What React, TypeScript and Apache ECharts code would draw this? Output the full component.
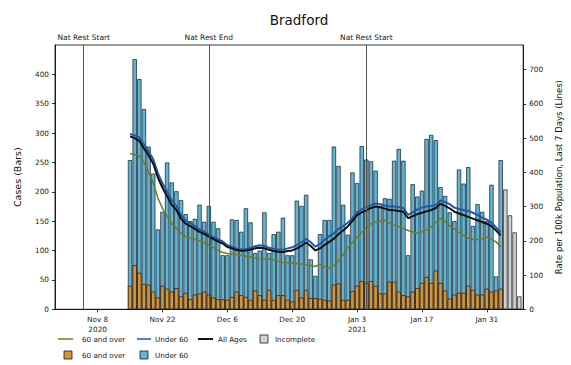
import React, { useEffect, useRef } from "react";
import * as echarts from "echarts";

// Day 0 = 2020-11-08. Bars/lines start at day 7 (Nov 15).
const firstDay = 7;
// total cases per day (bar height)
const totalCases = [
  254, 426, 392, 341, 277, 231, 136, 166, 250, 216,
  201, 186, 162, 150, 154, 178, 149, 176, 149, 138,
  92, 92, 153, 152, 132, 172, 148, 96, 100, 165,
  96, 128, 132, 156, 92, 92, 185, 176, 195, 85,
  57, 128, 152, 152, 277, 244, 178, 127, 233, 215,
  278, 255, 252, 236, 176, 189, 188, 253, 273, 253,
  92, 213, 192, 202, 290, 297, 288, 208, 193, 165,
  150, 238, 214, 242, 142, 179, 166, 150, 212, 56,
  254,
];
// 60 and over part (bottom of each bar)
const over60Cases = [
  40, 75, 62, 43, 42, 30, 20, 40, 35, 30,
  36, 22, 28, 17, 25, 27, 30, 25, 20, 17,
  17, 16, 21, 30, 24, 21, 16, 32, 24, 16,
  33, 16, 24, 24, 16, 13, 33, 20, 33, 19,
  19, 18, 16, 15, 42, 44, 16, 16, 31, 40,
  48, 45, 48, 40, 27, 27, 47, 47, 30, 24,
  22, 30, 36, 45, 55, 45, 66, 45, 32, 18,
  25, 28, 28, 40, 33, 25, 25, 35, 30, 32,
  35,
];
const incompleteFirstDay = 88;
const incompleteCases = [204, 160, 131, 22];

const over60Rate = [
  455, 452, 448, 430, 400, 370, 325, 295, 272, 250,
  237, 222, 212, 208, 204, 200, 195, 188, 180, 172,
  166, 163, 161, 160, 158, 155, 153, 150, 148, 147,
  146, 144, 140, 137, 136, 135, 134, 132, 130, 128,
  125, 132, 124, 119, 128, 142, 160, 180, 195, 210,
  225, 238, 250, 255, 258, 260, 252, 246, 241, 236,
  230, 226, 222, 226, 232, 240, 255, 265, 256, 244,
  235, 225, 215, 208, 204, 204, 206, 211, 205, 197,
  183,
];
const under60Rate = [
  512, 508, 502, 482, 462, 438, 398, 368, 344, 318,
  302, 276, 260, 252, 243, 233, 227, 218, 211, 204,
  198, 187, 183, 177, 175, 176, 179, 184, 187, 185,
  180, 177, 175, 174, 178, 181, 188, 196, 206, 196,
  183, 191, 203, 214, 222, 235, 243, 253, 266, 283,
  292, 298, 305, 309, 307, 303, 300, 300, 298, 296,
  276, 283, 292, 297, 300, 302, 305, 318, 313, 307,
  297, 293, 290, 287, 282, 276, 268, 262, 253, 239,
  225,
];
const allAgesRate = [
  505, 500, 492, 470, 450, 425, 385, 355, 330, 305,
  290, 265, 250, 243, 235, 226, 220, 212, 205, 198,
  192, 182, 178, 173, 171, 172, 174, 178, 180, 178,
  174, 170, 168, 167, 170, 172, 178, 185, 195, 185,
  172, 178, 188, 197, 206, 220, 230, 242, 258, 275,
  283, 289, 296, 300, 298, 294, 290, 289, 287, 285,
  266, 272, 278, 282, 286, 290, 296, 308, 302, 295,
  285, 280, 275, 270, 265, 260, 255, 250, 243, 230,
  216,
];

const tickDays = [0, 14, 28, 42, 56, 70, 84];
const tickLabels = ["Nov 8\n2020", "Nov 22", "Dec 6", "Dec 20", "Jan 3\n2021", "Jan 17", "Jan 31"];
const eventDays = [-3, 24, 58];
const eventLabels = ["Nat Rest Start", "Nat Rest End", "Nat Rest Start"];
const leftTicks = [0, 50, 100, 150, 200, 250, 300, 350, 400];
const rightTicks = [0, 100, 200, 300, 400, 500, 600, 700];

const FONT = "DejaVu Sans";
const C_O60 = "#d3953c";
const C_U60 = "#5fb6d8";
const C_INC = "#d3d3d3";
const C_EDGE = "#1a1a1a";
const L_O60 = "#6f7b2a";
const L_U60 = "#2059a8";
const L_ALL = "#111111";

export default function App() {
  const ref = useRef<HTMLDivElement>(null);
  useEffect(() => {
    if (!ref.current) return;
    const chart = echarts.init(ref.current, null, { renderer: "svg" });

    const toPts = (arr: number[], start: number) => arr.map((v, i) => [start + i, v]);

    const barCommon = {
      type: "bar",
      barWidth: 4.3,
      barGap: "-100%",
      yAxisIndex: 0,
      silent: true,
    };
    const lineCommon = {
      type: "line",
      yAxisIndex: 1,
      showSymbol: false,
      silent: true,
      z: 4,
    };
    const labelStyle = { fontFamily: FONT, fontSize: 7.3, color: "#222" };
    const axisLine = { show: true, onZero: false, lineStyle: { color: "#000", width: 0.8 } };
    const lbl = (x: number, y: number, text: string) => ({
      type: "text",
      x,
      y,
      style: { text, fontFamily: FONT, fontSize: 7.2, fill: "#222", verticalAlign: "middle", align: "left" },
    });
    const row1 = 339;
    const row2 = 355;

    chart.setOption({
      animation: false,
      title: {
        text: "Bradford",
        left: 294,
        top: 8,
        textAlign: "center",
        textStyle: { fontFamily: FONT, fontSize: 13.5, fontWeight: "normal", color: "#111" },
      },
      grid: { left: 55, right: 39.5, top: 45, bottom: 55.7, show: true, borderColor: "#000", borderWidth: 0.8 },
      xAxis: {
        type: "value",
        min: -9.2,
        max: 91.85,
        splitLine: { show: false },
        axisLine,
        axisTick: { show: true, length: 3, lineStyle: { color: "#000", width: 0.8 }, customValues: tickDays },
        axisLabel: {
          ...labelStyle,
          margin: 5,
          lineHeight: 10,
          customValues: tickDays,
          formatter: (v: number) => {
            const i = tickDays.indexOf(v);
            return i >= 0 ? tickLabels[i] : "";
          },
        },
      },
      yAxis: [
        {
          type: "value",
          min: 0,
          max: 450,
          name: "Cases (Bars)",
          nameLocation: "middle",
          nameRotate: 90,
          nameGap: 33,
          nameTextStyle: { fontFamily: FONT, fontSize: 9.5, color: "#111" },
          splitLine: { show: false },
          axisLine,
          axisTick: { show: true, length: 3, lineStyle: { color: "#000", width: 0.8 }, customValues: leftTicks },
          axisLabel: { ...labelStyle, margin: 6, customValues: leftTicks },
        },
        {
          type: "value",
          min: 0,
          max: 772,
          position: "right",
          name: "Rate per 100k Population, Last 7 Days (Lines)",
          nameLocation: "middle",
          nameRotate: 90,
          nameGap: 27,
          nameTextStyle: { fontFamily: FONT, fontSize: 8.5, color: "#111" },
          splitLine: { show: false },
          axisLine,
          axisTick: { show: true, length: 3, lineStyle: { color: "#000", width: 0.8 }, customValues: rightTicks },
          axisLabel: { ...labelStyle, margin: 6, customValues: rightTicks },
        },
      ],
      series: [
        {
          ...barCommon,
          name: "Under 60",
          data: toPts(totalCases, firstDay),
          itemStyle: { color: C_U60, borderColor: C_EDGE, borderWidth: 0.7 },
          markLine: {
            silent: true,
            symbol: ["none", "none"],
            lineStyle: { color: "#555", width: 1, type: "solid" },
            label: { show: true, position: "end", formatter: "{b}", fontFamily: FONT, fontSize: 7.5, color: "#222", distance: 4 },
            data: eventDays.map((d, i) => ({ xAxis: d, name: eventLabels[i] })),
            z: 5,
          },
        },
        {
          ...barCommon,
          name: "60 and over",
          data: toPts(over60Cases, firstDay),
          itemStyle: { color: C_O60, borderColor: C_EDGE, borderWidth: 0.7 },
        },
        {
          ...barCommon,
          name: "Incomplete",
          data: toPts(incompleteCases, incompleteFirstDay),
          itemStyle: { color: C_INC, borderColor: C_EDGE, borderWidth: 0.7 },
        },
        { ...lineCommon, name: "60 and over rate", data: toPts(over60Rate, firstDay), lineStyle: { color: L_O60, width: 1.5 } },
        { ...lineCommon, name: "Under 60 rate", data: toPts(under60Rate, firstDay), lineStyle: { color: L_U60, width: 2 } },
        { ...lineCommon, name: "All Ages rate", data: toPts(allAgesRate, firstDay), lineStyle: { color: L_ALL, width: 2 } },
      ],
      graphic: [
        { type: "line", shape: { x1: 58, y1: row1, x2: 73, y2: row1 }, style: { stroke: L_O60, lineWidth: 1.5 } },
        lbl(82, row1, "60 and over"),
        { type: "line", shape: { x1: 137, y1: row1, x2: 151, y2: row1 }, style: { stroke: L_U60, lineWidth: 1.5 } },
        lbl(155, row1, "Under 60"),
        { type: "line", shape: { x1: 198, y1: row1, x2: 213, y2: row1 }, style: { stroke: L_ALL, lineWidth: 2 } },
        lbl(218, row1, "All Ages"),
        { type: "rect", shape: { x: 260, y: row1 - 4, width: 8, height: 8 }, style: { fill: C_INC, stroke: C_EDGE, lineWidth: 0.8 } },
        lbl(275, row1, "Incomplete"),
        { type: "rect", shape: { x: 64, y: row2 - 4, width: 8, height: 8 }, style: { fill: C_O60, stroke: C_EDGE, lineWidth: 0.8 } },
        lbl(82, row2, "60 and over"),
        { type: "rect", shape: { x: 140, y: row2 - 4, width: 8, height: 8 }, style: { fill: C_U60, stroke: C_EDGE, lineWidth: 0.8 } },
        lbl(155, row2, "Under 60"),
      ],
    });
    return () => chart.dispose();
  }, []);
  return (
    <div
      ref={ref}
      style={{ position: "fixed", left: 0, top: 0, width: 571, height: 365, background: "#fff" }}
    />
  );
}
